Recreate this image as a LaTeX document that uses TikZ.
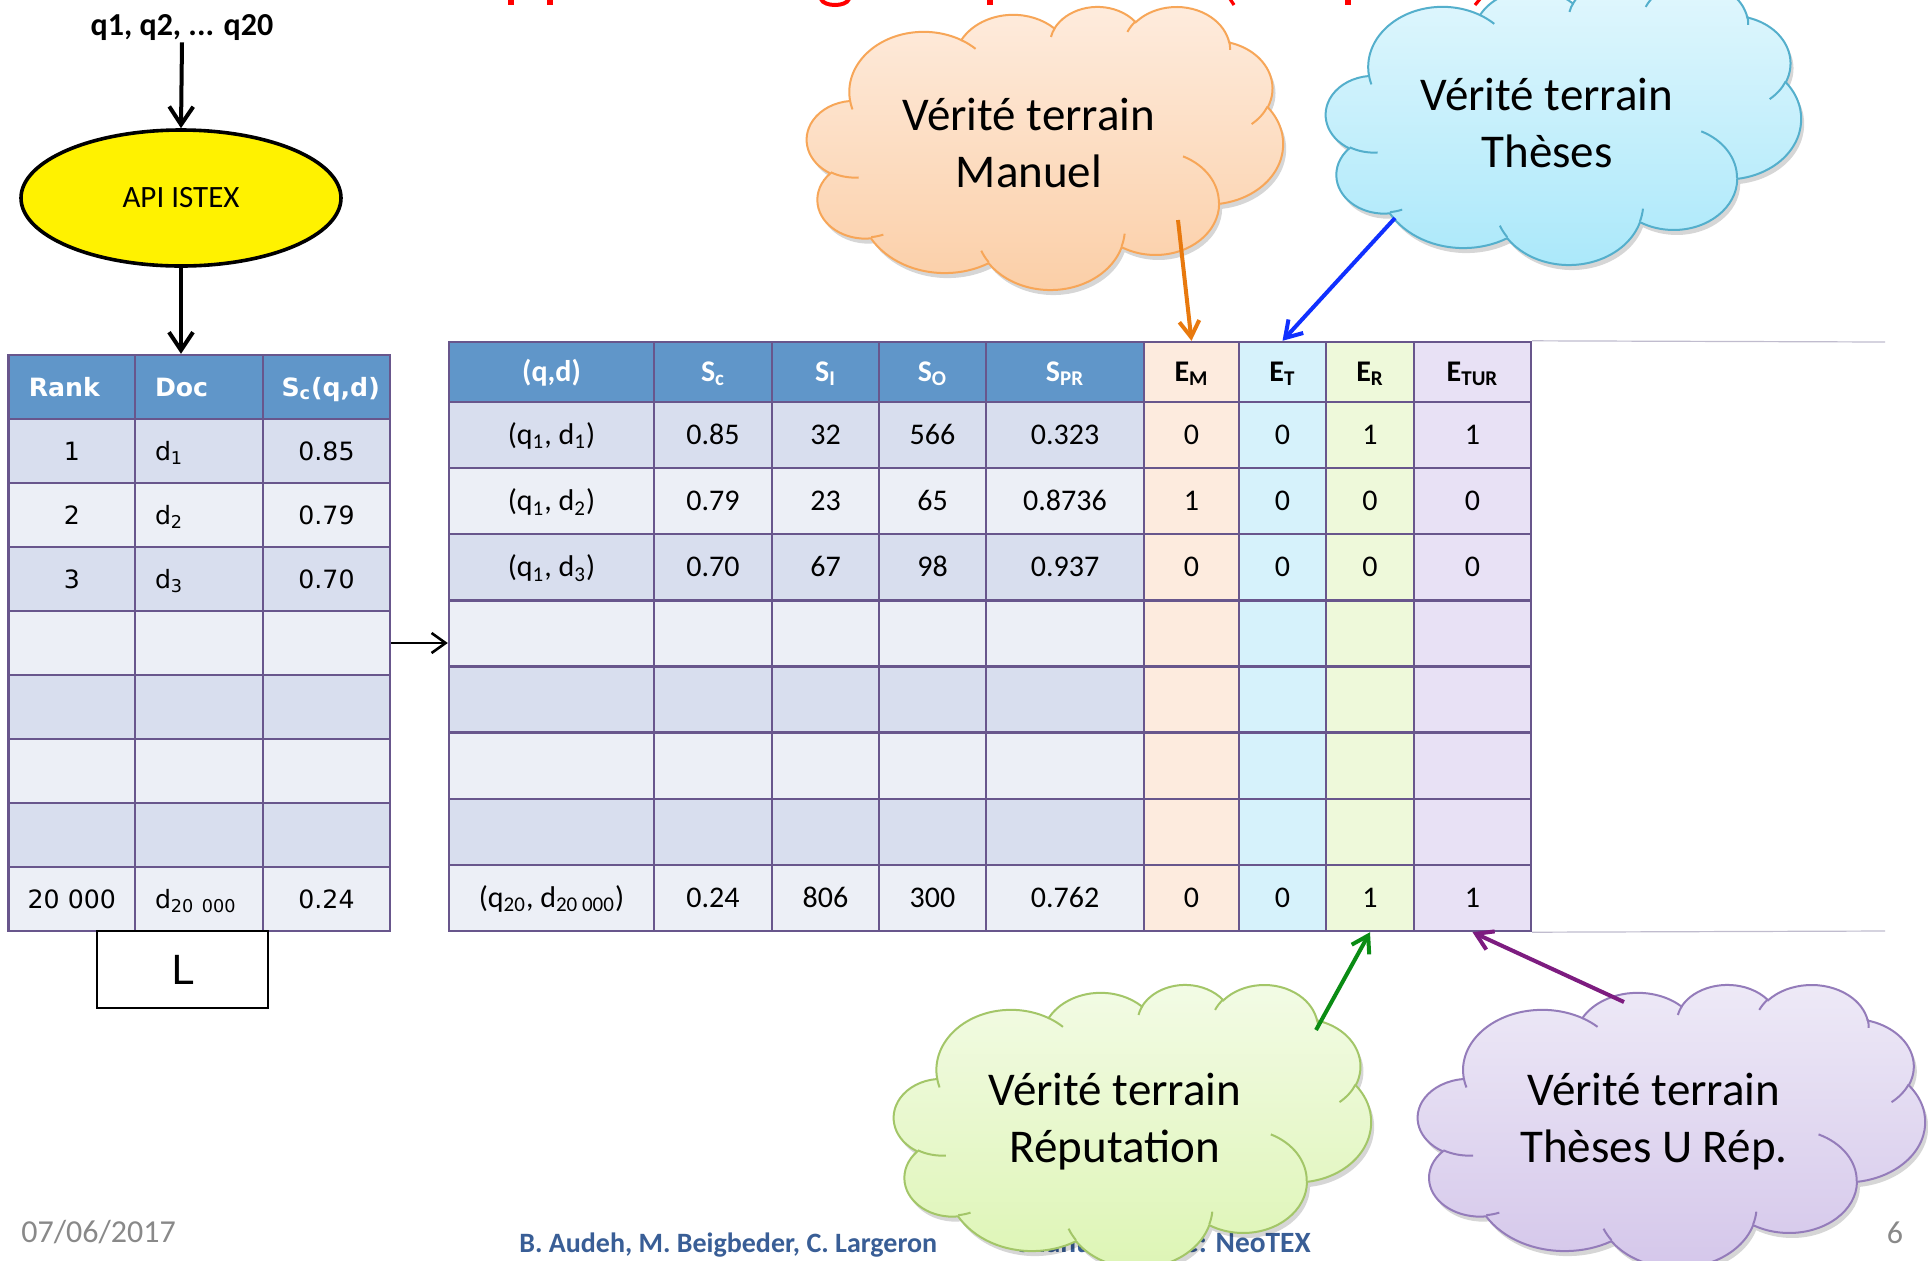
\documentclass[tikz,border=0pt]{standalone}
\usepackage{fontspec}
\setmainfont{Carlito}
\newfontfamily\dejavu{DejaVu Sans}
\usetikzlibrary{arrows.meta,shapes.geometric,shadows}

% table colours
\definecolor{hdrblue}{RGB}{96,150,201}
\definecolor{banddark}{RGB}{216,222,238}
\definecolor{bandlight}{RGB}{236,239,246}
\definecolor{tblline}{RGB}{104,86,140}
\definecolor{emfill}{RGB}{253,235,222}
\definecolor{etfill}{RGB}{214,242,251}
\definecolor{erfill}{RGB}{238,249,218}
\definecolor{eturfill}{RGB}{232,225,245}
\definecolor{gridgray}{RGB}{192,188,206}
% arrows
\definecolor{arrorange}{RGB}{232,121,14}
\definecolor{arrblue}{RGB}{16,48,255}
\definecolor{arrgreen}{RGB}{10,140,20}
\definecolor{arrpurple}{RGB}{125,28,128}
% clouds
\definecolor{orTop}{RGB}{254,236,222}\definecolor{orBot}{RGB}{251,206,166}\definecolor{orLine}{RGB}{247,166,88}
\definecolor{blTop}{RGB}{226,247,253}\definecolor{blBot}{RGB}{170,232,250}\definecolor{blLine}{RGB}{84,175,204}
\definecolor{grTop}{RGB}{243,251,230}\definecolor{grBot}{RGB}{221,245,180}\definecolor{grLine}{RGB}{163,198,104}
\definecolor{puTop}{RGB}{238,234,247}\definecolor{puBot}{RGB}{212,198,234}\definecolor{puLine}{RGB}{148,124,186}
% footer and title
\definecolor{footblue}{RGB}{57,94,150}
\definecolor{footgray}{RGB}{137,137,137}
\definecolor{titlered}{RGB}{255,0,0}

% column and row borders of the two tables (pixel units)
\def\RX{{449,654,772,879,986,1144,1239,1326,1414,1531}}
\def\RY{{342,402,468.125,534.25,600.375,666.5,732.625,798.75,864.875,931}}
\def\LX{{8.6,135,263,390}}
\def\LY{{355,419,483,547,611,675,739,803,867,931}}

% one cell of the score table: row, column, text
\newcommand\rcell[3]{%
  \pgfmathsetmacro\cxa{\RX[#2-1]}\pgfmathsetmacro\cxb{\RX[#2]}%
  \pgfmathsetmacro\cya{\RY[#1]}\pgfmathsetmacro\cyb{\RY[#1+1]}%
  \pgfmathsetmacro\cw{(\cxb-\cxa)*0.5}\pgfmathsetmacro\ch{(\cyb-\cya)*0.5}%
  \ifnum#2>5 \edef\cfill{\ifcase\numexpr#2-6\relax emfill\or etfill\or erfill\or eturfill\fi}%
  \else\ifnum#1=0 \def\cfill{hdrblue}\else\ifodd#1 \def\cfill{banddark}\else\def\cfill{bandlight}\fi\fi\fi
  \node[rcellbox, fill=\cfill, minimum width=\cw pt, minimum height=\ch pt]
    (R-#1-#2) at ({(\cxa+\cxb)/2},{(\cya+\cyb)/2}) {#3};}

% one cell of the ranked list: [options] row, column, text
\newcommand\lcell[4][]{%
  \pgfmathsetmacro\cxa{\LX[#3-1]}\pgfmathsetmacro\cxb{\LX[#3]}%
  \pgfmathsetmacro\cya{\LY[#2]}\pgfmathsetmacro\cyb{\LY[#2+1]}%
  \pgfmathsetmacro\cw{(\cxb-\cxa)*0.5}\pgfmathsetmacro\ch{(\cyb-\cya)*0.5}%
  \ifnum#2=0 \def\cfill{hdrblue}\else\ifodd#2 \def\cfill{banddark}\else\def\cfill{bandlight}\fi\fi
  \node[lcellbox, fill=\cfill, minimum width=\cw pt, minimum height=\ch pt, #1]
    (L-#2-#3) at ({(\cxa+\cxb)/2},{(\cya+\cyb)/2}) {#4};}

% elliptical arc: radii, start angle (angle of the point seen from the centre), sweep
\newcommand\carc[4]{arc[x radius=#1, y radius=#2,
  start angle={atan2((#1)*sin(#3),(#2)*cos(#3))},
  delta angle={mod(atan2((#1)*sin((#3)+(#4)),(#2)*cos((#3)+(#4)))-atan2((#1)*sin(#3),(#2)*cos(#3))+720,360)}]}

% cloud callout: left, top, width, height, top colour, bottom colour, line colour
\newcommand\cloudshape[7]{%
  \begin{scope}[shift={(#1,#2)}, xscale=#3/432, yscale=#4/432]
    \path[draw=#7, line width=1pt, top color=#5, bottom color=#6,
          drop shadow={shadow xshift=1.5pt, shadow yshift=-2.5pt, opacity=0.16, fill=black}]
      (39.00,143.70) \carc{67.53}{91.90}{-190.48748}{123.78053}
      \carc{53.33}{72.67}{-144.10238}{89.94523}
      \carc{43.65}{59.45}{-145.80792}{99.72302}
      \carc{48.57}{65.95}{-130.98607}{117.24173}
      \carc{53.33}{72.73}{-78.70888}{109.02692}
      \carc{67.75}{92.20}{-46.26725}{130.269}
      \carc{57.85}{78.67}{0.62502}{114.03333}
      \carc{67.52}{92.15}{22.4516}{115.17255}
      \carc{77.20}{105.43}{66.24263}{75.71102}
      \carc{43.60}{59.18}{-274.94208}{146.73557}
      \carc{43.45}{59.45}{-246.8285}{152.51885}
      -- cycle;
    \draw[#7, line width=1pt]
      (46.93,261.77) \carc{43.45}{59.45}{86.742}{26.4295}
      (69.28,348.99) \carc{43.60}{59.18}{73.61047}{11.44747}
      (164.78,390.90) \carc{67.52}{92.15}{137.62415}{14.0811}
      (288.27,347.51) \carc{67.52}{92.15}{6.45327}{15.99835}
      (341.29,229.54) \carc{57.85}{78.67}{-70.29235}{70.9174}
      (417.98,153.54) \carc{53.33}{72.73}{30.31803}{27.7515}
      (383.24,54.26) \carc{48.57}{65.95}{-13.74433}{14.8589}
      (290.78,39.52) \carc{48.57}{65.95}{-149.18145}{18.19537}
      (221.41,47.20) \carc{43.65}{59.45}{-163.49427}{17.68635}
      (140.00,51.92) \carc{67.53}{91.90}{-66.70695}{12.31935}
      (41.27,157.89) \carc{67.53}{91.90}{157.65435}{11.85817};
  \end{scope}}

\begin{document}
\begin{tikzpicture}[x=0.5pt, y=-0.5pt,
  rcellbox/.style={draw=tblline, line width=1.2pt, inner sep=0pt, text height=9.5pt, text depth=0pt,
    font=\fontsize{15}{18}\selectfont},
  lcellbox/.style={draw=tblline, line width=1.2pt, inner sep=0pt, text height=9.1pt, text depth=0pt,
    font=\dejavu\fontsize{12.6}{15}\selectfont},
  bigarrow/.style={line width=2pt, -{Straight Barb[length=9pt,width=12pt]}},
  thinarrow/.style={line width=1.3pt, -{Straight Barb[length=7pt,width=10pt]}},
  truth/.style={line width=2pt, -{Straight Barb[length=8pt,width=10pt]}},
  cloudtext/.style={align=center, inner sep=0pt, font=\fontsize{23.5}{28.5}\selectfont},
]
\useasboundingbox (0,0) rectangle (1928,1260);
\fill[white] (0,0) rectangle (1928,1260);
\clip (0,0) rectangle (1928,1260);

% descenders of the slide title, cut by the top edge
\fill[titlered] (508,-1) rectangle (514,5);
\fill[titlered] (547,-1) rectangle (553,5);
\draw[titlered, line width=2pt] (821,-1) .. controls (824,7) and (846,7) .. (849,-1);
\fill[titlered] (987,-1) rectangle (993,5);
\draw[titlered, line width=1.6pt] (1230,-1) -- (1234,5);
\fill[titlered] (1345,-1) rectangle (1351,5);
\draw[titlered, line width=1.6pt] (1480,-1) -- (1475,5);

% footer
\node[anchor=west, inner sep=0pt, text=footgray, font=\fontsize{16}{19}\selectfont] (date) at (21,1232) {07/06/2017};
\node[anchor=west, inner sep=0pt, text=footblue, font=\bfseries\fontsize{14}{17}\selectfont] (authors) at (519,1245) {B. Audeh, M. Beigbeder, C. Largeron};
\node[anchor=west, inner sep=0pt, text=footblue, font=\bfseries\fontsize{14.7}{17}\selectfont] (project) at (1014,1245) {Chantier Usage: NeoTEX};
\node[inner sep=0pt, text=footgray, font=\fontsize{16}{19}\selectfont] (pagenum) at (1895,1233) {6};

% query set and search engine
\node[anchor=base, inner sep=1pt, font=\bfseries\fontsize{16}{19}\selectfont] (queries) at (182,35) {q1, q2, ... q20};
\node[ellipse, draw, line width=1.8pt, fill=yellow, inner sep=0pt, minimum width=160pt, minimum height=68pt,
      font=\fontsize{15.5}{18}\selectfont] (api) at (181,198) {API ISTEX};

% ranked list returned for one query
\lcell[text width=43pt, align=left]{0}{1}{\color{white}\bfseries Rank}
\lcell[text width=44pt, align=left]{0}{2}{\color{white}\bfseries Doc}
\lcell[text width=45pt, align=left]{0}{3}{\color{white}\bfseries S\textsubscript{c}(q,d)}
\foreach \ri/\ta/\tb/\tc in {1/1/{d\textsubscript{1}}/0.85, 2/2/{d\textsubscript{2}}/0.79, 3/3/{d\textsubscript{3}}/0.70,
    4///, 5///, 6///, 7///, 8/20 000/{d\textsubscript{20 000}}/0.24} {
  \lcell{\ri}{1}{\ta}
  \lcell[text width=44pt, align=left]{\ri}{2}{\tb}
  \lcell{\ri}{3}{\tc}
}
\node[draw, line width=0.9pt, inner sep=0pt, minimum width=85.5pt, minimum height=38.5pt,
      font=\dejavu\fontsize{20}{24}\selectfont] (listL) at (182.5,969.5) {L};

% score table
\foreach \ci/\txt in {1/{(q,d)}, 2/{S\textsubscript{c}}, 3/{S\textsubscript{I}}, 4/{S\textsubscript{O}}, 5/{S\textsubscript{PR}}}
  {\rcell{0}{\ci}{\color{white}\bfseries\txt}}
\foreach \ci/\txt in {6/{E\textsubscript{M}}, 7/{E\textsubscript{T}}, 8/{E\textsubscript{R}}, 9/{E\textsubscript{TUR}}}
  {\rcell{0}{\ci}{\bfseries\txt}}
\foreach \ci/\txt in {1/{(q\textsubscript{1}, d\textsubscript{1})}, 2/0.85, 3/32, 4/566, 5/0.323, 6/0, 7/0, 8/1, 9/1}
  {\rcell{1}{\ci}{\txt}}
\foreach \ci/\txt in {1/{(q\textsubscript{1}, d\textsubscript{2})}, 2/0.79, 3/23, 4/65, 5/0.8736, 6/1, 7/0, 8/0, 9/0}
  {\rcell{2}{\ci}{\txt}}
\foreach \ci/\txt in {1/{(q\textsubscript{1}, d\textsubscript{3})}, 2/0.70, 3/67, 4/98, 5/0.937, 6/0, 7/0, 8/0, 9/0}
  {\rcell{3}{\ci}{\txt}}
\foreach \ri in {4,...,7} {\foreach \ci in {1,...,9} {\rcell{\ri}{\ci}{}}}
\foreach \ci/\txt in {1/{(q\textsubscript{20}, d\textsubscript{20 000})}, 2/0.24, 3/806, 4/300, 5/0.762, 6/0, 7/0, 8/1, 9/1}
  {\rcell{8}{\ci}{\txt}}
\coordinate (gridA) at (1885,342);
\coordinate (gridB) at (1885,931);
\draw[gridgray, line width=0.6pt] (R-0-9.north east) -- (gridA);
\draw[gridgray, line width=0.6pt] (R-8-9.south east) -- (gridB);

% flow arrows
\draw[bigarrow] (queries.south) -- (api.north);
\draw[bigarrow] (api.south) -- (api.south |- L-0-1.north);
\draw[thinarrow] (L-4-3.east) -- (L-4-3.east -| R-4-1.west);

% ground-truth clouds
\cloudshape{807}{6}{476}{283}{orTop}{orBot}{orLine}
\cloudshape{1326}{-19}{475}{283}{blTop}{blBot}{blLine}
\cloudshape{894}{984}{477}{283}{grTop}{grBot}{grLine}
\cloudshape{1418}{984}{507}{283}{puTop}{puBot}{puLine}
\node[cloudtext] (tManuel) at (1029,142.5) {Vérité terrain\\Manuel};
\node[cloudtext] (tTheses) at (1547,122.5) {Vérité terrain\\Thèses};
\node[cloudtext] (tRep) at (1115,1121.5) {Vérité terrain\\Réputation};
\node[cloudtext] (tUnion) at (1654,1121.5) {Vérité terrain\\Thèses U Rép.};

% each ground truth fills its column
\coordinate (oStart) at (1178,220);
\coordinate (bStart) at (1395,218);
\coordinate (gStart) at (1316,1030);
\coordinate (pStart) at (1624,1002);
\draw[truth, arrorange] (oStart) -- (R-0-6.north);
\draw[truth, arrblue] (bStart) -- (R-0-7.north);
\draw[truth, arrgreen] (gStart) -- (R-8-8.south);
\draw[truth, arrpurple] (pStart) -- (R-8-9.south);
\end{tikzpicture}
\end{document}
